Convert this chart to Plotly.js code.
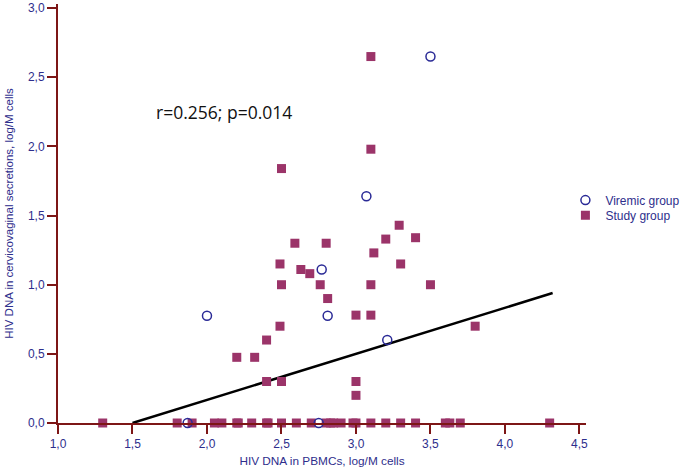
<!DOCTYPE html>
<html>
<head>
<meta charset="utf-8">
<script src="https://cdn.plot.ly/plotly-3.0.1.min.js"></script>
<style>html,body{margin:0;padding:0;background:#fff;}#chart{width:689px;height:472px;}</style>
</head>
<body>
<div id="chart"></div>
<script>
// Viremic group (open circles)
const viremicX = [3.5, 3.07, 2.77, 2.0, 2.81, 3.21, 1.87, 2.75];
const viremicY = [2.65, 1.64, 1.11, 0.775, 0.775, 0.6, 0, 0];

// Study group (filled squares)
const studyX = [3.1, 3.1, 2.5, 3.29, 3.2, 3.4, 2.59, 2.8, 3.12, 2.49, 3.3, 2.63, 2.69, 2.5, 2.76, 3.1, 3.5, 2.81, 3.0, 3.1, 3.8, 2.49, 2.4, 2.2, 2.32, 2.4, 2.5, 3.0, 3.0,
  1.3, 1.8, 1.9, 2.05, 2.1, 2.2, 2.21, 2.3, 2.4, 2.41, 2.5, 2.6, 2.7, 2.8, 2.83, 2.85, 2.9, 2.98, 3.0, 3.1, 3.2, 3.3, 3.4, 3.6, 3.63, 3.7, 4.3];
const studyY = [2.65, 1.98, 1.84, 1.43, 1.33, 1.34, 1.3, 1.3, 1.23, 1.15, 1.15, 1.11, 1.08, 1.0, 1.0, 1.0, 1.0, 0.9, 0.78, 0.78, 0.7, 0.7, 0.6, 0.475, 0.475, 0.3, 0.3, 0.3, 0.2,
  0, 0, 0, 0, 0, 0, 0, 0, 0, 0, 0, 0, 0, 0, 0, 0, 0, 0, 0, 0, 0, 0, 0, 0, 0, 0, 0];

// Regression line
const fitX = [1.5, 4.32];
const fitY = [0, 0.94];

const xTicks = [1.0, 1.5, 2.0, 2.5, 3.0, 3.5, 4.0, 4.5];
const yTicks = [0.0, 0.5, 1.0, 1.5, 2.0, 2.5, 3.0];

const axisColor = '#7d1616';
const labelColor = '#2e2e8c';
const font = 'Liberation Sans, Arial, sans-serif';

const traces = [
  {x: fitX, y: fitY, type: 'scatter', mode: 'lines', line: {color: '#000', width: 2.5}, showlegend: false, hoverinfo: 'skip'},
  {x: studyX, y: studyY, type: 'scatter', mode: 'markers', name: 'Study group', cliponaxis: false, legend: 'legend2',
   marker: {symbol: 'square', size: 9, color: '#9b3469', line: {width: 0}}},
  {x: viremicX, y: viremicY, type: 'scatter', mode: 'markers', name: 'Viremic group', cliponaxis: false, legend: 'legend',
   marker: {symbol: 'circle-open', size: 9, color: '#2a2a96', line: {width: 1.5, color: '#2a2a96'}}}
];

const legendFont = {family: font, size: 12, color: labelColor};
const layout = {
  width: 689, height: 472,
  margin: {l: 58, r: 103, t: 4, b: 49, autoexpand: false},
  paper_bgcolor: '#fff', plot_bgcolor: '#fff',
  separators: ',.',
  showlegend: true,
  legend: {x: 0.961, xanchor: 'left', y: 0.532, yanchor: 'middle', font: legendFont, itemwidth: 30, bgcolor: 'rgba(0,0,0,0)'},
  legend2: {x: 0.961, xanchor: 'left', y: 0.496, yanchor: 'middle', font: legendFont, itemwidth: 30, bgcolor: 'rgba(0,0,0,0)'},
  xaxis: {
    range: [1.0, 4.544], showgrid: false, zeroline: false,
    showline: true, linecolor: axisColor, linewidth: 2,
    ticks: 'outside', ticklen: 9, tickwidth: 2, tickcolor: axisColor,
    tickvals: xTicks, tickformat: '.1f',
    tickfont: {family: font, size: 12, color: labelColor},
    title: {text: 'HIV DNA in PBMCs, log/M cells', font: {family: font, size: 11.8, color: labelColor}, standoff: 6}
  },
  yaxis: {
    range: [0, 3.03], showgrid: false, zeroline: false,
    showline: true, linecolor: axisColor, linewidth: 2,
    ticks: 'outside', ticklen: 9, tickwidth: 2, tickcolor: axisColor,
    tickvals: yTicks, tickformat: '.1f',
    tickfont: {family: font, size: 12, color: labelColor},
    title: {text: 'HIV DNA in cervicovaginal secretions, log/M cells', font: {family: font, size: 11.5, color: labelColor}, standoff: 12}
  },
  annotations: [
    {x: 2.115, y: 2.25, xref: 'x', yref: 'y', text: 'r=0.256; p=0.014', showarrow: false,
     font: {family: 'Open Sans, Liberation Sans, sans-serif', size: 17.5, color: '#111'}}
  ]
};

Plotly.newPlot('chart', traces, layout, {displayModeBar: false, staticPlot: true});
</script>
</body>
</html>
